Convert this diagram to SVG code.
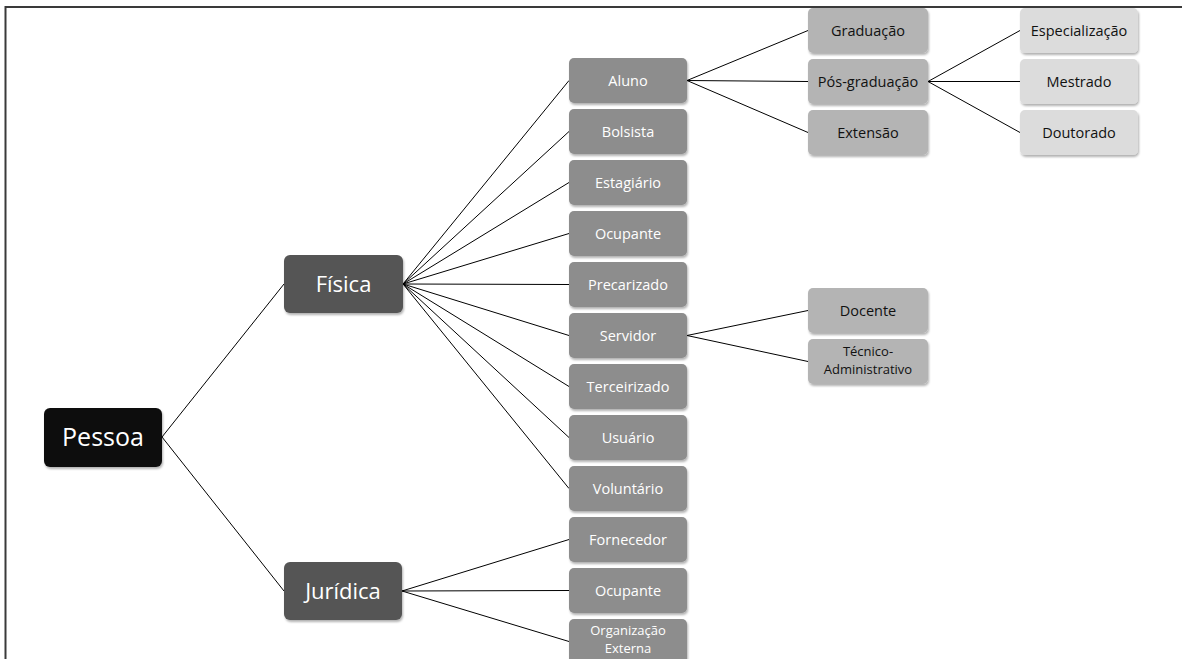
<svg xmlns="http://www.w3.org/2000/svg" width="1182" height="659" viewBox="0 0 1182 659">
  <defs>
    <filter id="shadow" x="-10%" y="-10%" width="125%" height="135%">
      <feDropShadow dx="1" dy="2" stdDeviation="1.2" flood-color="#000" flood-opacity="0.3"/>
    </filter>
    <style>
      .box { filter: url(#shadow); }
      .root { fill: #0c0c0c; }
      .lvl1 { fill: #545454; }
      .lvl2 { fill: #8d8d8d; }
      .lvl3 { fill: #b4b4b4; }
      .lvl4 { fill: #dcdcdc; }
      text { font-family: "Open Sans", "Liberation Sans", sans-serif; text-anchor: middle; }
      .t0 { font-size: 25px; fill: #fff; }
      .t1 { font-size: 22px; fill: #fff; }
      .t2 { font-size: 14.5px; fill: #fff; }
      .t3 { font-size: 14.5px; fill: #111; }
      .s2 { font-size: 13px; }
      .conn line { stroke: #000; stroke-width: 1; }
    </style>
  </defs>
  <rect width="1182" height="659" fill="#fff"/>

  <!-- page frame -->
  <path d="M5.5 659 V7 H1182" fill="none" stroke="#3a3a3a" stroke-width="2"/>

  <!-- connectors -->
  <g id="connectors" class="conn">
    <line x1="162" y1="437" x2="284" y2="284"/>
    <line x1="162" y1="437" x2="284" y2="591"/>

    <line x1="403" y1="284" x2="569" y2="80.5"/>
    <line x1="403" y1="284" x2="569" y2="131.5"/>
    <line x1="403" y1="284" x2="569" y2="182.5"/>
    <line x1="403" y1="284" x2="569" y2="233.5"/>
    <line x1="403" y1="284" x2="569" y2="284.5"/>
    <line x1="403" y1="284" x2="569" y2="335.5"/>
    <line x1="403" y1="284" x2="569" y2="386.5"/>
    <line x1="403" y1="284" x2="569" y2="437.5"/>
    <line x1="403" y1="284" x2="569" y2="488.5"/>

    <line x1="402" y1="591" x2="569" y2="539.5"/>
    <line x1="402" y1="591" x2="569" y2="590.5"/>
    <line x1="402" y1="591" x2="569" y2="641.5"/>

    <line x1="687" y1="80.5" x2="808" y2="30.5"/>
    <line x1="687" y1="80.5" x2="808" y2="81.5"/>
    <line x1="687" y1="80.5" x2="808" y2="132.5"/>

    <line x1="928" y1="81.5" x2="1020" y2="30.5"/>
    <line x1="928" y1="81.5" x2="1020" y2="81.5"/>
    <line x1="928" y1="81.5" x2="1020" y2="132.5"/>

    <line x1="687" y1="335.5" x2="808" y2="310.5"/>
    <line x1="687" y1="335.5" x2="808" y2="361.5"/>
  </g>

  <!-- root -->
  <g id="pessoa">
    <rect class="box root" x="44" y="408" width="118" height="59" rx="6"/>
    <text class="t0" x="103" y="446">Pessoa</text>
  </g>

  <!-- first level -->
  <g id="fisica">
    <rect class="box lvl1" x="284" y="255" width="119" height="58" rx="6"/>
    <text class="t1" x="343.5" y="292">Física</text>
  </g>
  <g id="juridica">
    <rect class="box lvl1" x="284" y="562" width="118" height="58" rx="6"/>
    <text class="t1" x="343" y="599">Jurídica</text>
  </g>

  <!-- second level -->
  <g id="aluno">
    <rect class="box lvl2" x="569" y="58" width="118" height="45" rx="5"/>
    <text class="t2" x="628" y="86">Aluno</text>
  </g>
  <g id="bolsista">
    <rect class="box lvl2" x="569" y="109" width="118" height="45" rx="5"/>
    <text class="t2" x="628" y="137">Bolsista</text>
  </g>
  <g id="estagiario">
    <rect class="box lvl2" x="569" y="160" width="118" height="45" rx="5"/>
    <text class="t2" x="628" y="188">Estagiário</text>
  </g>
  <g id="ocupante-fisica">
    <rect class="box lvl2" x="569" y="211" width="118" height="45" rx="5"/>
    <text class="t2" x="628" y="239">Ocupante</text>
  </g>
  <g id="precarizado">
    <rect class="box lvl2" x="569" y="262" width="118" height="45" rx="5"/>
    <text class="t2" x="628" y="290">Precarizado</text>
  </g>
  <g id="servidor">
    <rect class="box lvl2" x="569" y="313" width="118" height="45" rx="5"/>
    <text class="t2" x="628" y="341">Servidor</text>
  </g>
  <g id="terceirizado">
    <rect class="box lvl2" x="569" y="364" width="118" height="45" rx="5"/>
    <text class="t2" x="628" y="392">Terceirizado</text>
  </g>
  <g id="usuario">
    <rect class="box lvl2" x="569" y="415" width="118" height="45" rx="5"/>
    <text class="t2" x="628" y="443">Usuário</text>
  </g>
  <g id="voluntario">
    <rect class="box lvl2" x="569" y="466" width="118" height="45" rx="5"/>
    <text class="t2" x="628" y="494">Voluntário</text>
  </g>
  <g id="fornecedor">
    <rect class="box lvl2" x="569" y="517" width="118" height="45" rx="5"/>
    <text class="t2" x="628" y="545">Fornecedor</text>
  </g>
  <g id="ocupante-juridica">
    <rect class="box lvl2" x="569" y="568" width="118" height="45" rx="5"/>
    <text class="t2" x="628" y="596">Ocupante</text>
  </g>
  <g id="organizacao-externa">
    <rect class="box lvl2" x="569" y="619" width="118" height="45" rx="5"/>
    <text class="t2 s2" x="628" y="635"><tspan x="628">Organização</tspan><tspan x="628" dy="18">Externa</tspan></text>
  </g>

  <!-- third level -->
  <g id="graduacao">
    <rect class="box lvl3" x="808" y="8" width="120" height="45" rx="5"/>
    <text class="t3" x="868" y="36">Graduação</text>
  </g>
  <g id="pos-graduacao">
    <rect class="box lvl3" x="808" y="59" width="120" height="45" rx="5"/>
    <text class="t3" x="868" y="87">Pós-graduação</text>
  </g>
  <g id="extensao">
    <rect class="box lvl3" x="808" y="110" width="120" height="45" rx="5"/>
    <text class="t3" x="868" y="138">Extensão</text>
  </g>
  <g id="docente">
    <rect class="box lvl3" x="808" y="288" width="120" height="45" rx="5"/>
    <text class="t3" x="868" y="316">Docente</text>
  </g>
  <g id="tecnico-administrativo">
    <rect class="box lvl3" x="808" y="339" width="120" height="45" rx="5"/>
    <text class="t3 s2" x="868" y="356"><tspan x="868">Técnico-</tspan><tspan x="868" dy="18">Administrativo</tspan></text>
  </g>

  <!-- fourth level -->
  <g id="especializacao">
    <rect class="box lvl4" x="1020" y="8" width="118" height="45" rx="5"/>
    <text class="t3" x="1079" y="36">Especialização</text>
  </g>
  <g id="mestrado">
    <rect class="box lvl4" x="1020" y="59" width="118" height="45" rx="5"/>
    <text class="t3" x="1079" y="87">Mestrado</text>
  </g>
  <g id="doutorado">
    <rect class="box lvl4" x="1020" y="110" width="118" height="45" rx="5"/>
    <text class="t3" x="1079" y="138">Doutorado</text>
  </g>
</svg>
